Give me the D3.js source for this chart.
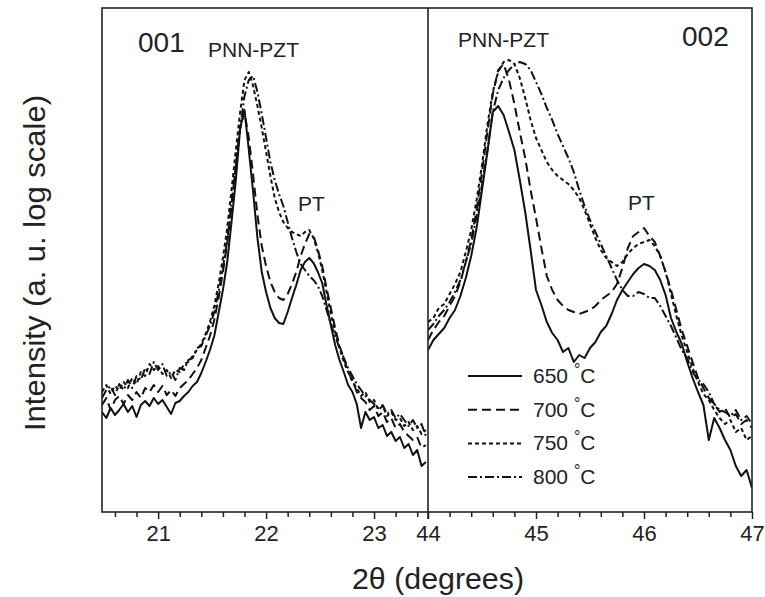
<!DOCTYPE html>
<html>
<head>
<meta charset="utf-8">
<script src="https://cdn.jsdelivr.net/npm/d3@7"></script>
<style>
  body { margin: 0; background: #fff; }
  svg { display: block; font-family: "Liberation Sans", Arial, sans-serif; }
</style>
</head>
<body>
<div id="chart"></div>
<script>
// sampling grids (2theta, degrees)
const leftTheta = d3.range(76).map(i => +(20.48 + 0.04 * i).toFixed(2));
const rightTheta = d3.range(61).map(i => +(44 + 0.05 * i).toFixed(2));

// intensity, arbitrary units on a log scale
// (001) reflection
const left650 = [100,94,104,97,102,108,100,106,95,107,111,106,114,108,112,105,98,109,111,116,
  120,126,130,139,150,162,176,199,222,250,290,332,384,402,362,320,274,240,220,204,
  194,189,188,200,214,227,242,250,254,249,240,229,207,187,167,152,140,127,120,108,
  84,100,92,95,84,87,76,80,71,75,64,68,57,62,46,50];
const left700 = [107,114,102,112,116,108,117,112,120,114,124,120,127,120,126,117,122,116,124,128,
  132,138,144,152,164,176,192,214,240,268,307,347,384,400,374,337,297,266,246,230,
  220,214,212,218,228,240,256,268,278,276,262,246,224,204,184,166,154,140,132,120,
  114,110,102,106,96,100,90,94,84,88,80,76,72,75,64,67];
const left750 = [120,127,118,126,122,130,124,134,128,140,136,148,142,146,138,142,134,142,140,148,
  150,156,162,168,178,190,206,228,254,284,322,362,400,432,440,426,406,384,360,336,
  314,300,290,284,280,278,276,280,282,274,260,242,220,198,180,164,150,140,130,124,
  116,120,110,112,102,106,96,100,92,94,86,90,82,86,78,82];
const left800 = [114,122,126,117,128,122,132,124,136,132,144,138,150,142,148,136,140,132,144,142,
  152,154,164,166,176,186,200,220,244,272,308,346,384,416,432,436,420,398,374,350,
  332,318,306,290,274,260,248,242,236,232,226,216,202,188,176,164,154,144,136,128,
  122,116,112,108,104,107,98,102,94,98,92,86,92,84,88,76];

// (002) reflection
const right650 = [162,172,178,184,194,202,216,234,256,284,322,360,400,406,397,380,362,332,300,262,
  222,207,190,179,172,160,164,150,157,154,164,170,180,186,198,212,222,230,238,244,
  248,246,242,232,217,194,180,168,150,134,120,107,72,94,84,72,62,46,36,42,24];
const right700 = [172,182,190,196,206,216,230,250,272,302,340,380,418,442,448,432,408,380,354,322,
  294,264,236,222,212,206,202,200,198,200,202,206,212,216,220,228,244,264,276,280,
  284,276,270,256,240,222,202,182,166,150,134,124,114,108,100,104,94,98,88,92,84];
const right750 = [190,194,204,208,218,228,240,260,282,312,347,387,420,440,450,452,448,434,414,392,
  374,362,350,342,336,332,328,322,314,302,288,274,262,254,250,246,250,258,264,268,
  270,272,266,256,240,218,196,176,160,144,130,118,112,102,94,88,92,80,84,72,76];
const right800 = [182,188,196,202,210,220,232,250,268,296,327,362,400,422,434,442,448,450,448,442,
  430,418,404,392,378,366,354,340,322,306,292,280,268,256,244,232,222,216,216,220,
  218,214,214,206,196,186,174,162,154,140,132,128,120,108,102,100,96,102,92,96,88];

const temps = ["650", "700", "750", "800"];
const leftSeries = [left650, left700, left750, left800];
const rightSeries = [right650, right700, right750, right800];

const leftTicks = [21, 22, 23];
const rightTicks = [44, 45, 46, 47];

const width = 765, height = 597;
const frame = { left: 102, right: 752, top: 8, bottom: 512 };
const split = 428;
const dashes = [null, "9,5", "4,3", "9,3,2,3"];

const svg = d3.select("#chart").append("svg")
  .attr("width", width)
  .attr("height", height);

const xL = d3.scaleLinear().domain([20.48, 23.5]).range([frame.left, split]);
const xR = d3.scaleLinear().domain([44, 47]).range([split, frame.right]);
const y = d3.scaleLinear().domain([0, 504]).range([frame.bottom, frame.top]);

// clip each panel
const defs = svg.append("defs");
defs.append("clipPath").attr("id", "clipL").append("rect")
  .attr("x", frame.left).attr("y", frame.top)
  .attr("width", split - frame.left).attr("height", frame.bottom - frame.top);
defs.append("clipPath").attr("id", "clipR").append("rect")
  .attr("x", split).attr("y", frame.top)
  .attr("width", frame.right - split).attr("height", frame.bottom - frame.top);

function drawPanel(xs, theta, series, clip) {
  const line = d3.line()
    .x((d, i) => xs(theta[i]))
    .y(d => y(d));
  svg.append("g").attr("clip-path", `url(#${clip})`)
    .selectAll("path")
    .data(series)
    .enter()
    .append("path")
    .attr("d", line)
    .attr("fill", "none")
    .attr("stroke", "#111")
    .attr("stroke-width", 2)
    .attr("stroke-linejoin", "round")
    .attr("stroke-dasharray", (d, i) => dashes[i]);
}

drawPanel(xL, leftTheta, leftSeries, "clipL");
drawPanel(xR, rightTheta, rightSeries, "clipR");

// minor + major ticks
function minorTicks(lo, hi) {
  const out = [];
  for (let v = Math.ceil(lo * 5) / 5; v <= hi + 1e-9; v += 0.2) {
    const r = Math.round(v * 10) / 10;
    if (Math.abs(r - Math.round(r)) > 1e-6) out.push(r);
  }
  return out;
}

function drawAxis(xs, majors, lo, hi) {
  const gMinor = svg.append("g")
    .attr("transform", `translate(0,${frame.bottom})`)
    .call(d3.axisBottom(xs).tickValues(minorTicks(lo, hi)).tickSize(5).tickFormat(""));
  gMinor.select(".domain").remove();
  const gMajor = svg.append("g")
    .attr("transform", `translate(0,${frame.bottom})`)
    .call(d3.axisBottom(xs).tickValues(majors).tickSize(7).tickPadding(6).tickFormat(d3.format("d")));
  gMajor.select(".domain").remove();
  svg.selectAll(".tick line").attr("stroke", "#222").attr("stroke-width", 1.5);
  gMajor.selectAll("text")
    .attr("font-size", 22)
    .attr("fill", "#222")
    .attr("font-family", "Liberation Sans, Arial, sans-serif");
}

drawAxis(xL, leftTicks, 20.48, 23.45);
drawAxis(xR, rightTicks, 44, 47);

// frame and divider
svg.append("rect")
  .attr("x", frame.left).attr("y", frame.top)
  .attr("width", frame.right - frame.left).attr("height", frame.bottom - frame.top)
  .attr("fill", "none").attr("stroke", "#222").attr("stroke-width", 1.6);
svg.append("line")
  .attr("x1", split).attr("x2", split)
  .attr("y1", frame.top).attr("y2", frame.bottom + 7)
  .attr("stroke", "#222").attr("stroke-width", 1.6);

// annotations
const notes = [
  { t: "001", x: 138, y: 52, s: 28 },
  { t: "PNN-PZT", x: 208, y: 57, s: 21 },
  { t: "PT", x: 298, y: 211, s: 21 },
  { t: "PNN-PZT", x: 458, y: 47, s: 21 },
  { t: "002", x: 682, y: 46, s: 28 },
  { t: "PT", x: 628, y: 210, s: 21 }
];
svg.selectAll(".note")
  .data(notes)
  .enter()
  .append("text")
  .attr("x", d => d.x)
  .attr("y", d => d.y)
  .attr("font-size", d => d.s)
  .attr("fill", "#222")
  .text(d => d.t);

// legend
const legend = svg.append("g").attr("transform", "translate(468,376)");
temps.forEach((t, i) => {
  const row = legend.append("g").attr("transform", `translate(0,${i * 33.7})`);
  row.append("line")
    .attr("x1", 0).attr("x2", 54)
    .attr("stroke", "#111").attr("stroke-width", 2)
    .attr("stroke-dasharray", dashes[i]);
  const txt = row.append("text")
    .attr("x", 65).attr("y", 7)
    .attr("font-size", 21)
    .attr("fill", "#222");
  txt.append("tspan").text(t + " ");
  txt.append("tspan").attr("dy", -8).attr("font-size", 16).text("°");
  txt.append("tspan").attr("dy", 8).text("C");
});

// axis titles
svg.append("text")
  .attr("x", 438).attr("y", 589)
  .attr("text-anchor", "middle")
  .attr("font-size", 29)
  .attr("textLength", 172)
  .attr("lengthAdjust", "spacingAndGlyphs")
  .attr("fill", "#222")
  .text("2θ (degrees)");

svg.append("text")
  .attr("transform", "translate(45,263) rotate(-90)")
  .attr("text-anchor", "middle")
  .attr("font-size", 30)
  .attr("textLength", 336)
  .attr("lengthAdjust", "spacingAndGlyphs")
  .attr("fill", "#222")
  .text("Intensity (a. u. log scale)");
</script>
</body>
</html>
